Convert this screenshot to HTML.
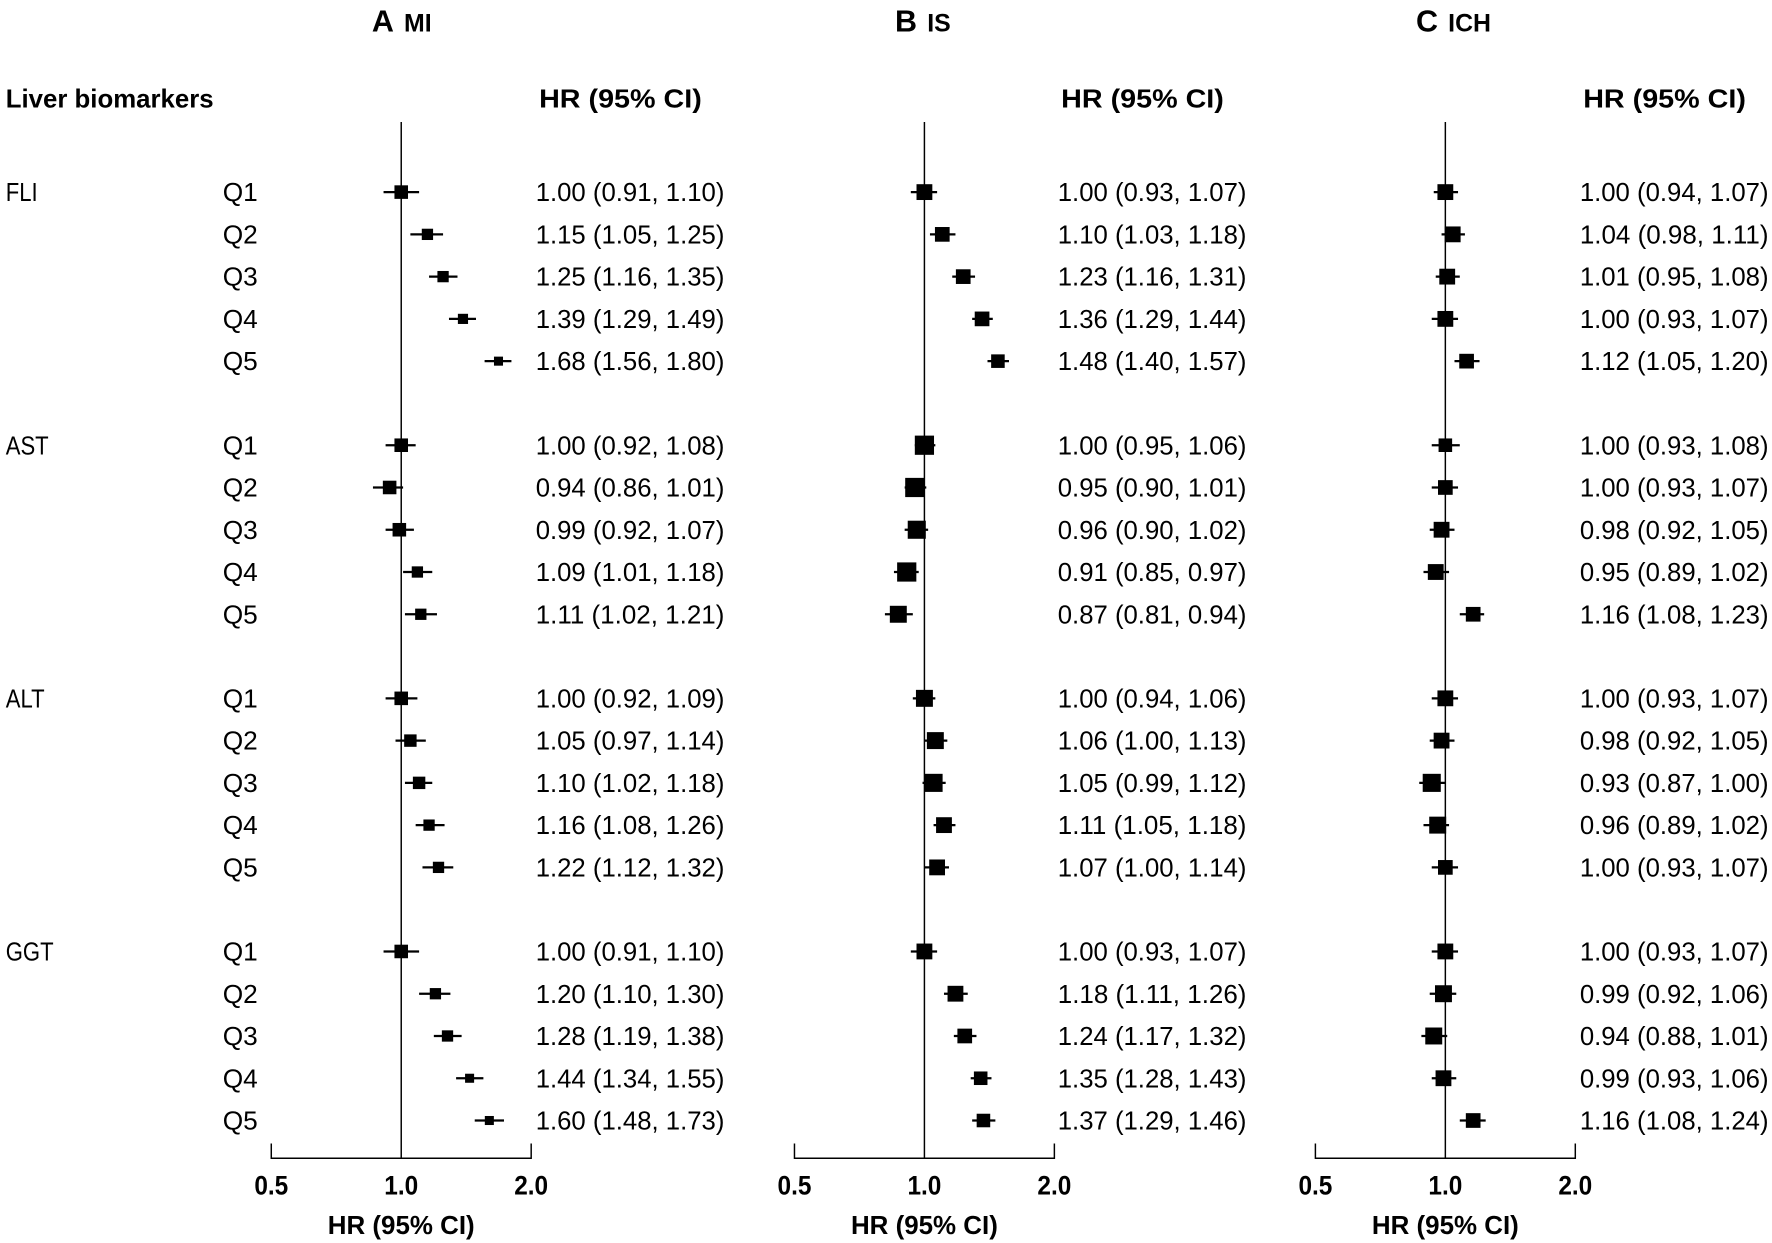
<!DOCTYPE html>
<html><head><meta charset="utf-8"><style>
html,body{margin:0;padding:0;background:#fff}
svg{display:block}
text{font-family:"Liberation Sans",Arial,sans-serif;fill:#000}
</style></head><body>
<svg id="chart" width="1772" height="1243" viewBox="0 0 1568 1100" xmlns="http://www.w3.org/2000/svg"></svg>
<script>
const panelTitles = ["MI", "IS", "ICH"];
const panelLetters = ["A", "B", "C"];
const groups = ["FLI", "AST", "ALT", "GGT"];
const quintiles = ["Q1", "Q2", "Q3", "Q4", "Q5"];
const tickValues = [0.5, 1.0, 2.0];
const tickLabels = ["0.5", "1.0", "2.0"];
const hrMI = [1.00,1.15,1.25,1.39,1.68, 1.00,0.94,0.99,1.09,1.11, 1.00,1.05,1.10,1.16,1.22, 1.00,1.20,1.28,1.44,1.60];
const loMI = [0.91,1.05,1.16,1.29,1.56, 0.92,0.86,0.92,1.01,1.02, 0.92,0.97,1.02,1.08,1.12, 0.91,1.10,1.19,1.34,1.48];
const hiMI = [1.10,1.25,1.35,1.49,1.80, 1.08,1.01,1.07,1.18,1.21, 1.09,1.14,1.18,1.26,1.32, 1.10,1.30,1.38,1.55,1.73];
const hrIS = [1.00,1.10,1.23,1.36,1.48, 1.00,0.95,0.96,0.91,0.87, 1.00,1.06,1.05,1.11,1.07, 1.00,1.18,1.24,1.35,1.37];
const loIS = [0.93,1.03,1.16,1.29,1.40, 0.95,0.90,0.90,0.85,0.81, 0.94,1.00,0.99,1.05,1.00, 0.93,1.11,1.17,1.28,1.29];
const hiIS = [1.07,1.18,1.31,1.44,1.57, 1.06,1.01,1.02,0.97,0.94, 1.06,1.13,1.12,1.18,1.14, 1.07,1.26,1.32,1.43,1.46];
const hrICH = [1.00,1.04,1.01,1.00,1.12, 1.00,1.00,0.98,0.95,1.16, 1.00,0.98,0.93,0.96,1.00, 1.00,0.99,0.94,0.99,1.16];
const loICH = [0.94,0.98,0.95,0.93,1.05, 0.93,0.93,0.92,0.89,1.08, 0.93,0.92,0.87,0.89,0.93, 0.93,0.92,0.88,0.93,1.08];
const hiICH = [1.07,1.11,1.08,1.07,1.20, 1.08,1.07,1.05,1.02,1.23, 1.07,1.05,1.00,1.02,1.07, 1.07,1.06,1.01,1.06,1.24];
const sizeMI = [12,10,10,9,8, 12,12,12,10,10, 12,11,11,10,10, 12,10,10,8,8];
const sizeIS = [14,13,13,13,12, 17,17,16,17,15, 15,15,16,14,14, 14,14,13,12,12];
const sizeICH = [14,14,14,14,13, 12,13,14,14,13, 14,14,16,15,13, 14,15,15,14,13];

const NS = "http://www.w3.org/2000/svg";
const svg = document.getElementById("chart");
function mk(tag, attrs, parent){const e=document.createElementNS(NS,tag);for(const k in attrs)e.setAttribute(k,attrs[k]);(parent||svg).appendChild(e);return e;}
function txt(s, attrs, parent){const e=mk("text",attrs,parent);e.textContent=s;return e;}

const panels = [
  {hr:hrMI, lo:loMI, hi:hiMI, size:sizeMI, center:355, textRight:641, hdrRight:621},
  {hr:hrIS, lo:loIS, hi:hiIS, size:sizeIS, center:818, textRight:1103, hdrRight:1083},
  {hr:hrICH, lo:loICH, hi:hiICH, size:sizeICH, center:1279, textRight:1565, hdrRight:1545}
];
const perLog2 = 115;
function rowY(g, q){ return 170 + g*224 + q*37.4; }

let t = txt("Liver biomarkers", {x:5, y:95, "font-size":23, "font-weight":"bold", textLength:184, lengthAdjust:"spacingAndGlyphs"});



groups.forEach((gname, g) => {
  const gl = txt(gname, {x:5, y:rowY(g,0)+8, "font-size":23, "transform-origin":"5px 0", transform:"scale(0.85,1)"});
  
  
  quintiles.forEach((qn, q) => {
    const ql = txt(qn, {x:197, y:rowY(g,q)+8, "font-size":23, textLength:31, lengthAdjust:"spacingAndGlyphs"});
    
    
  });
});

panels.forEach((p, pi) => {
  const gp = mk("g", {});
  
  
  const xs = v => p.center + perLog2 * Math.log2(v);

  const title = txt("", {x:p.center - 26, y:28, "font-weight":"bold"}, gp);
  
  
  const ts1 = mk("tspan", {"font-size":27}, title); ts1.textContent = panelLetters[pi];
  const ts2 = mk("tspan", {"font-size":22, dx:9}, title); ts2.textContent = panelTitles[pi];

  const hdr = txt("HR (95% CI)", {x:p.hdrRight, y:95, "font-size":23, "font-weight":"bold", "text-anchor":"end", textLength:144, lengthAdjust:"spacingAndGlyphs"}, gp);
  
  

  const ref = mk("line", {x1:xs(1), x2:xs(1), y1:108, y2:1025, stroke:"#000", "stroke-width":1.3}, gp);
  
  

  const ax = mk("path", {d:`M${xs(tickValues[0])},1012 V1025 H${xs(tickValues[tickValues.length-1])} V1012`, fill:"none", stroke:"#000", "stroke-width":1.3}, gp);
  
  
  tickValues.forEach((v, i) => {
    const tl = txt(tickLabels[i], {x:xs(v), y:1057, "font-size":24, "font-weight":"bold", "text-anchor":"middle", textLength:30, lengthAdjust:"spacingAndGlyphs"}, gp);
    
    
  });
  const at = txt("HR (95% CI)", {x:xs(1), y:1092, "font-size":23, "font-weight":"bold", "text-anchor":"middle", textLength:130, lengthAdjust:"spacingAndGlyphs"}, gp);
  
  

  p.hr.forEach((hr, i) => {
    const g = Math.floor(i/5), q = i%5;
    const y = rowY(g, q);
    const ci = mk("line", {x1:xs(p.lo[i]), x2:xs(p.hi[i]), y1:y, y2:y, stroke:"#000", "stroke-width":2}, gp);
    
    
    const s = p.size[i];
    const sq = mk("rect", {x:xs(hr)-s/2, y:y-s/2, width:s, height:s, fill:"#000"}, gp);
    
    
    const label = hr.toFixed(2) + " (" + p.lo[i].toFixed(2) + ", " + p.hi[i].toFixed(2) + ")";
    const vt = txt(label, {x:p.textRight, y:y+8, "font-size":23, "text-anchor":"end", textLength:167, lengthAdjust:"spacingAndGlyphs"}, gp);
    
    
  });
});
</script>
</body></html>
